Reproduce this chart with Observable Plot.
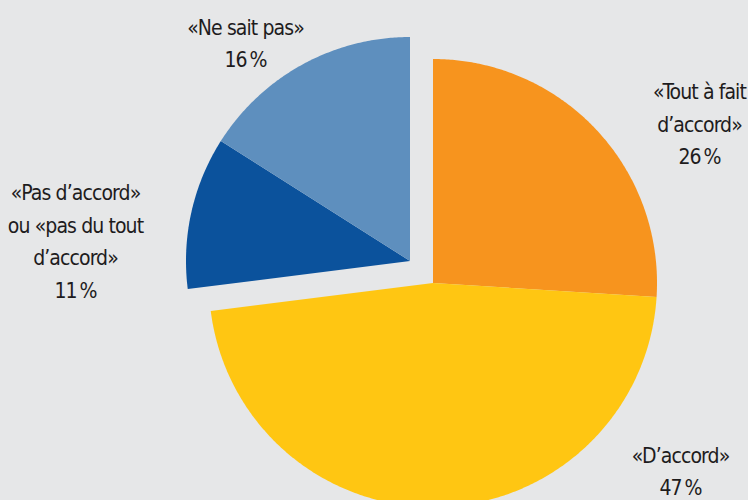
<!DOCTYPE html>
<html>
<head>
<meta charset="utf-8">
<script src="https://cdn.jsdelivr.net/npm/d3@7"></script>
<script src="https://cdn.jsdelivr.net/npm/@observablehq/plot@0.6"></script>
<style>
  html, body { margin: 0; padding: 0; background: #e6e7e8; overflow: hidden; }
  #chart svg { display: block; background: #e6e7e8; }
  #chart svg text { font-stretch: condensed; letter-spacing: -0.9px; }
</style>
</head>
<body>
<div id="chart"></div>
<script>
// ---- data ----
const categories = ["Tout à fait d’accord", "D’accord", "Pas d’accord ou pas du tout d’accord", "Ne sait pas"];
const shares = [26, 47, 11, 16];
const labelTexts = [
  "«Tout à fait\nd’accord»\n26\u202F%",
  "«D’accord»\n47\u202F%",
  "«Pas d’accord»\nou «pas du tout\nd’accord»\n11\u202F%",
  "«Ne sait pas»\n16\u202F%"
];
const exploded = [false, false, true, true];

// ---- layout / style ----
const colors = ["#f7941e", "#ffc612", "#0b529c", "#5e8fbe"];
const W = 748, H = 500;
const center = [433, 283];
const radius = 224;
const explodeOffset = [-23, -22];
const labelPos = [[699, 121], [680, 468], [75, 238], [245, 40]];

// build wedge geometry from shares
const total = d3.sum(shares);
let acc = 0;
const wedgeRows = [];
shares.forEach((v, i) => {
  const a0 = acc / total * 2 * Math.PI;
  acc += v;
  const a1 = acc / total * 2 * Math.PI;
  const ox = center[0] + (exploded[i] ? explodeOffset[0] : 0);
  const oy = center[1] + (exploded[i] ? explodeOffset[1] : 0);
  const n = Math.max(2, Math.ceil((a1 - a0) / (Math.PI / 360)));
  for (let k = 0; k <= n; k++) {
    const a = a0 + (a1 - a0) * k / n;
    wedgeRows.push({
      cat: categories[i],
      x1: ox, y1: oy,
      x2: ox + radius * Math.sin(a),
      y2: oy - radius * Math.cos(a)
    });
  }
});
const labelRows = categories.map((c, i) => ({cat: c, text: labelTexts[i], x: labelPos[i][0], y: labelPos[i][1]}));

const chart = Plot.plot({
  width: W,
  height: H,
  margin: 0,
  style: {background: "#e6e7e8", fontFamily: "'DejaVu Sans Condensed', 'DejaVu Sans', sans-serif"},
  x: {domain: [0, W], range: [0, W], axis: null},
  y: {domain: [0, H], range: [0, H], axis: null},
  color: {domain: categories, range: colors},
  marks: [
    Plot.area(wedgeRows, {x1: "x1", y1: "y1", x2: "x2", y2: "y2", z: "cat", fill: "cat", curve: "linear"}),
    Plot.text(labelRows, {x: "x", y: "y", text: "text", fontSize: 21, lineHeight: 1.55, lineAnchor: "middle", textAnchor: "middle", fill: "#1e1c1d"})
  ]
});
document.getElementById("chart").appendChild(chart);
</script>
</body>
</html>
